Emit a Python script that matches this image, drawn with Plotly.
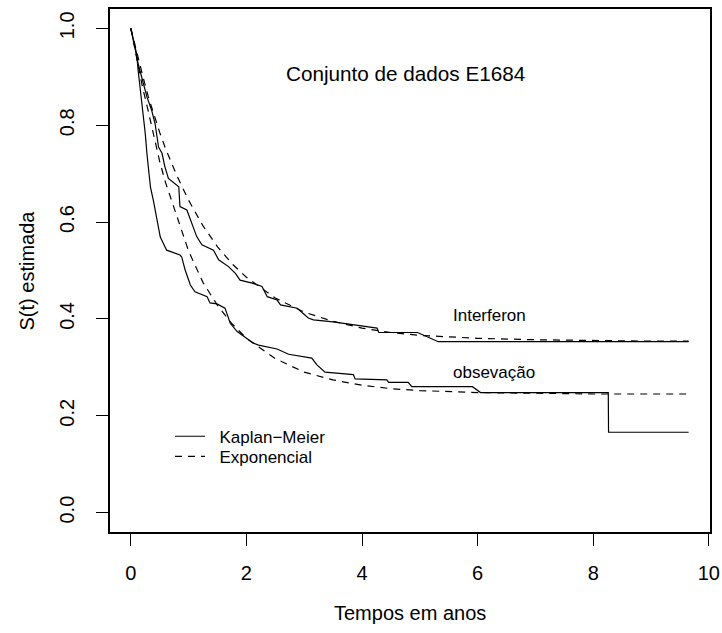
import plotly.graph_objects as go

# Kaplan-Meier estimates
ifn_km_t = [0, 0.03, 0.07, 0.12, 0.16, 0.22, 0.28, 0.36, 0.42, 0.48, 0.54, 0.59, 0.62, 0.65,
            0.83, 0.85, 0.97, 1.06, 1.14, 1.23, 1.43, 1.52, 1.69, 1.81, 1.89, 2.10, 2.27,
            2.36, 2.53, 2.59, 2.88, 3.07, 3.16, 3.50, 4.26, 4.29, 4.96, 5.32, 9.65]
ifn_km_s = [1.0, 0.985, 0.96, 0.93, 0.913, 0.889, 0.858, 0.831, 0.803, 0.755, 0.742, 0.714, 0.70, 0.69,
            0.673, 0.632, 0.625, 0.594, 0.57, 0.553, 0.542, 0.522, 0.508, 0.494, 0.48, 0.474, 0.467,
            0.446, 0.439, 0.429, 0.422, 0.402, 0.398, 0.394, 0.381, 0.372, 0.372, 0.353, 0.353]

obs_km_t = [0, 0.02, 0.04, 0.07, 0.10, 0.13, 0.16, 0.19, 0.22, 0.25, 0.28, 0.31, 0.34, 0.39,
            0.45, 0.51, 0.62, 0.68, 0.85, 0.88, 0.94, 1.03, 1.11, 1.32, 1.37, 1.49, 1.63,
            1.66, 1.72, 1.84, 1.95, 2.12, 2.21, 2.53, 2.73, 3.13, 3.22, 3.36, 3.85, 3.88,
            4.43, 4.46, 4.80, 4.86, 5.91, 6.05, 8.26, 8.265, 9.65]
obs_km_s = [1.0, 0.99, 0.98, 0.96, 0.948, 0.91, 0.879, 0.852, 0.81, 0.783, 0.74, 0.71, 0.672, 0.645,
            0.61, 0.569, 0.542, 0.539, 0.532, 0.528, 0.501, 0.47, 0.456, 0.446, 0.433, 0.431, 0.422,
            0.412, 0.391, 0.374, 0.364, 0.35, 0.346, 0.338, 0.327, 0.319, 0.305, 0.29, 0.285, 0.276,
            0.274, 0.269, 0.269, 0.26, 0.26, 0.248, 0.248, 0.166, 0.166]

# Exponential model fits
exp_t = [0, 0.1, 0.2, 0.3, 0.4, 0.5, 0.6, 0.8, 1.0, 1.25, 1.5, 1.75, 2.0, 2.5, 3.0, 3.5,
         4.0, 4.5, 5.0, 6.0, 7.0, 8.0, 9.0, 9.65]
ifn_exp_s = [1.0, 0.95, 0.905, 0.86, 0.82, 0.785, 0.752, 0.695, 0.645, 0.592, 0.549, 0.514,
             0.486, 0.443, 0.414, 0.395, 0.381, 0.372, 0.366, 0.36, 0.357, 0.355, 0.354, 0.354]
obs_exp_s = [1.0, 0.94, 0.88, 0.83, 0.775, 0.725, 0.682, 0.61, 0.54, 0.475, 0.428, 0.39,
             0.36, 0.318, 0.29, 0.274, 0.263, 0.256, 0.252, 0.248, 0.246, 0.245, 0.245, 0.245]

x_ticks = [0, 2, 4, 6, 8, 10]
y_ticks = [0.0, 0.2, 0.4, 0.6, 0.8, 1.0]
y_ticktext = ["0.0", "0.2", "0.4", "0.6", "0.8", "1.0"]

FONT = "Liberation Sans, Arial, Helvetica, sans-serif"
NB = "\u00a0"
DASH = "7px,6px"

fig = go.Figure()
fig.add_trace(go.Scatter(x=ifn_km_t, y=ifn_km_s, mode="lines", name=NB * 2 + "Kaplan\u2212Meier",
                         line=dict(color="black", width=1.2), showlegend=True, legend="legend"))
fig.add_trace(go.Scatter(x=exp_t, y=ifn_exp_s, mode="lines", name=NB * 2 + "Exponencial",
                         line=dict(color="black", width=1.2, dash=DASH), showlegend=True,
                         legend="legend2"))
fig.add_trace(go.Scatter(x=obs_km_t, y=obs_km_s, mode="lines",
                         line=dict(color="black", width=1.2), showlegend=False))
fig.add_trace(go.Scatter(x=exp_t, y=obs_exp_s, mode="lines",
                         line=dict(color="black", width=1.2, dash=DASH), showlegend=False))

axis_common = dict(showline=True, linecolor="black", linewidth=1.5, mirror=True,
                   ticks="outside", ticklen=12, tickwidth=1.3, tickcolor="black",
                   showgrid=False, zeroline=False, automargin=False,
                   tickfont=dict(family=FONT, size=20, color="black"))

legend_common = dict(xanchor="left", yanchor="top", bgcolor="rgba(0,0,0,0)",
                     font=dict(family=FONT, size=17, color="black"), borderwidth=0,
                     itemwidth=30)

fig.update_layout(
    width=722, height=633,
    margin=dict(l=110, r=12, t=8.6, b=100.5, pad=0),
    paper_bgcolor="white", plot_bgcolor="white",
    font=dict(family=FONT, color="black"),
    xaxis=dict(range=[-0.36, 10.02], tickvals=x_ticks, ticklabelstandoff=10, **axis_common),
    yaxis=dict(range=[-0.04, 1.04], tickvals=y_ticks, ticktext=y_ticktext, tickangle=-90,
               ticklabelstandoff=14, **axis_common),
    legend=dict(x=0.1, y=0.2166, **legend_common),
    legend2=dict(x=0.1, y=0.178, **legend_common),
    annotations=[
        dict(x=4.75, y=0.907, xref="x", yref="y", text="Conjunto de dados E1684",
             showarrow=False, xanchor="center", yanchor="middle",
             font=dict(family=FONT, size=20.7, color="black")),
        dict(x=5.54, y=0.408, xref="x", yref="y", text="Interferon",
             showarrow=False, xanchor="left", yanchor="middle",
             font=dict(family=FONT, size=17, color="black")),
        dict(x=5.54, y=0.289, xref="x", yref="y", text="obseva\u00e7\u00e3o",
             showarrow=False, xanchor="left", yanchor="middle",
             font=dict(family=FONT, size=17, color="black")),
        dict(x=0.5, y=-0.155, xref="paper", yref="paper", text="Tempos em anos",
             showarrow=False, xanchor="center", yanchor="middle",
             font=dict(family=FONT, size=20, color="black")),
        dict(x=-0.14, y=0.5, xref="paper", yref="paper", text="S(t) estimada",
             showarrow=False, xanchor="center", yanchor="middle", textangle=-90,
             font=dict(family=FONT, size=20, color="black")),
    ],
)

fig.write_html("out.html", config={"displayModeBar": False},
               post_script="document.body.style.margin='0px';")
